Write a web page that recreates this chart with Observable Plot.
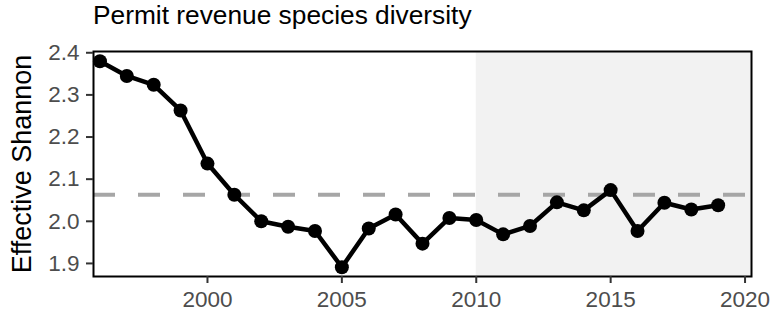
<!DOCTYPE html>
<html>
<head>
<meta charset="utf-8">
<script src="https://cdn.jsdelivr.net/npm/d3@7"></script>
<script src="https://cdn.jsdelivr.net/npm/@observablehq/plot@0.6"></script>
<style>
  html, body { margin: 0; padding: 0; background: #fff; }
  #title { height: 40px; line-height: 41px; padding-left: 93px; font: 26.3px "Liberation Sans", Arial, Helvetica, sans-serif; color: #000; white-space: nowrap; }
  svg { display: block; }
</style>
</head>
<body>
<div id="title">Permit revenue species diversity</div>
<div id="chart"></div>
<script>
const years = [1996,1997,1998,1999,2000,2001,2002,2003,2004,2005,2006,2007,2008,2009,2010,2011,2012,2013,2014,2015,2016,2017,2018,2019];
const shannon = [2.380,2.345,2.324,2.263,2.137,2.063,2.000,1.987,1.977,1.891,1.983,2.016,1.947,2.008,2.003,1.969,1.989,2.045,2.026,2.074,1.977,2.044,2.028,2.038];
const meanShannon = 2.063;
const shadeStart = 2010;
const xTicks = [2000, 2005, 2010, 2015, 2020];
const yTicks = [1.9, 2.0, 2.1, 2.2, 2.3, 2.4];
const yLabel = "Effective Shannon";

const data = years.map((y, i) => ({year: y, value: shannon[i]}));
const xDomain = [1995.76, 2020.24];
const yDomain = [1.869, 2.403];

const chart = Plot.plot({
  width: 771,
  height: 271,
  marginLeft: 93,
  marginRight: 20,
  marginTop: 11,
  marginBottom: 35,
  style: {fontFamily: '"Liberation Sans", Arial, Helvetica, sans-serif', background: "#fff"},
  x: {domain: xDomain},
  y: {domain: yDomain},
  marks: [
    Plot.rectX([{x1: shadeStart, x2: xDomain[1]}], {x1: "x1", x2: "x2", fill: "#f2f2f2"}),
    Plot.ruleY([meanShannon], {stroke: "#a6a6a6", strokeWidth: 4, strokeDasharray: "22,23"}),
    Plot.line(data, {x: "year", y: "value", stroke: "#000", strokeWidth: 4.5, strokeLinejoin: "round"}),
    Plot.dot(data, {x: "year", y: "value", r: 7, fill: "#000", stroke: "none"}),
    Plot.frame({stroke: "#000", strokeWidth: 2}),
    Plot.axisX(xTicks, {tickSize: 7, tickPadding: 8, fontSize: 22.5, fill: "#4d4d4d", stroke: "#333", strokeWidth: 2, label: null, tickFormat: d => String(d)}),
    Plot.axisY(yTicks, {tickSize: 7, tickPadding: 7, fontSize: 22.5, fill: "#4d4d4d", stroke: "#333", strokeWidth: 2, label: null, tickFormat: d3.format(".1f")}),
    Plot.text([yLabel], {frameAnchor: "left", dx: -71, rotate: -90, fontSize: 27, fill: "#000", textAnchor: "middle"})
  ]
});
document.getElementById("chart").appendChild(chart);
</script>
</body>
</html>
